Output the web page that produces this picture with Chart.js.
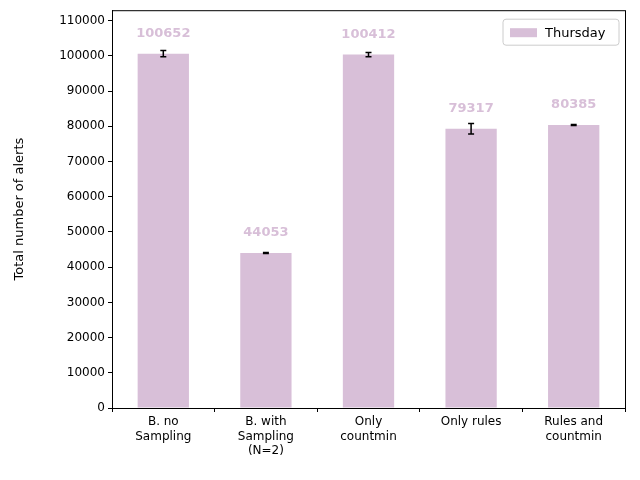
<!DOCTYPE html>
<html>
<head>
<meta charset="utf-8">
<script src="https://cdn.jsdelivr.net/npm/chart.js@4/dist/chart.umd.min.js"></script>
<style>
  html, body { margin: 0; padding: 0; background: #fff; }
  #wrap { width: 640px; height: 480px; }
</style>
</head>
<body>
<div id="wrap"><canvas id="chart" width="640" height="480"></canvas></div>
<script>
// Chart data
const categories = [['B. no', 'Sampling'], ['B. with', 'Sampling', '(N=2)'], ['Only', 'countmin'], ['Only rules'], ['Rules and', 'countmin']];
const alerts = [100652, 44053, 100412, 79317, 80385];
const errors = [900, 150, 600, 1500, 150];
const yTicks = [0, 10000, 20000, 30000, 40000, 50000, 60000, 70000, 80000, 90000, 100000, 110000];

const barColor = '#d8bfd8';
const font = 'DejaVu Sans';

const errorBars = {
  id: 'errorBars',
  afterDatasetsDraw(chart) {
    const { ctx, scales: { y } } = chart;
    const meta = chart.getDatasetMeta(0);
    const area = chart.chartArea;
    ctx.save();
    ctx.strokeStyle = '#000';
    ctx.lineWidth = 1.5;
    meta.data.forEach((bar, i) => {
      const top = y.getPixelForValue(alerts[i] + errors[i]);
      const bot = y.getPixelForValue(alerts[i] - errors[i]);
      ctx.beginPath();
      ctx.moveTo(bar.x, top); ctx.lineTo(bar.x, bot);
      ctx.moveTo(bar.x - 3, top); ctx.lineTo(bar.x + 3, top);
      ctx.moveTo(bar.x - 3, bot); ctx.lineTo(bar.x + 3, bot);
      ctx.stroke();
      ctx.fillStyle = barColor;
      ctx.font = 'bold 13px ' + font;
      ctx.textAlign = 'center';
      ctx.textBaseline = 'middle';
      ctx.fillText(String(alerts[i]), bar.x, bar.y - 20);
    });
    // frame
    ctx.lineWidth = 1;
    ctx.strokeRect(area.left + 0.5, area.top + 0.5, area.right - area.left, area.bottom - area.top);
    // legend box
    const w = 116, h = 26;
    const lx = area.right - w - 6, ly = area.top + 9;
    ctx.fillStyle = 'rgba(255,255,255,0.8)';
    ctx.strokeStyle = '#ccc';
    ctx.beginPath();
    ctx.roundRect(lx, ly, w, h, 3);
    ctx.fill(); ctx.stroke();
    ctx.fillStyle = barColor;
    ctx.fillRect(lx + 7, ly + 9, 27, 9);
    ctx.fillStyle = '#000';
    ctx.font = '13px ' + font;
    ctx.textAlign = 'left';
    ctx.fillText('Thursday', lx + 42, ly + 14);
    ctx.restore();
  }
};

new Chart(document.getElementById('chart').getContext('2d'), {
  type: 'bar',
  data: {
    labels: categories,
    datasets: [{
      label: 'Thursday',
      data: alerts,
      backgroundColor: barColor,
      barPercentage: 0.5,
      categoryPercentage: 1.0
    }]
  },
  options: {
    responsive: false,
    animation: false,
    layout: { padding: { top: 10, right: 15, left: 8, bottom: 8 } },
    plugins: {
      legend: { display: false },
      tooltip: { enabled: false }
    },
    scales: {
      x: {
        grid: { display: true, drawOnChartArea: false, tickLength: 4, tickColor: '#000' },
        border: { color: '#000' },
        ticks: { color: '#000', font: { family: font, size: 12 }, maxRotation: 0 },
        afterFit: s => { s.height = 64; }
      },
      y: {
        min: 0,
        max: 113000,
        afterBuildTicks: s => { s.ticks = yTicks.map(v => ({ value: v })); },
        grid: { display: true, drawOnChartArea: false, tickLength: 4, tickColor: '#000' },
        border: { color: '#000' },
        ticks: { color: '#000', font: { family: font, size: 12 }, callback: v => String(v) },
        title: { display: true, text: 'Total number of alerts', color: '#000', font: { family: font, size: 13 }, padding: { bottom: 16 } },
        afterFit: s => { s.width = 104; }
      }
    }
  },
  plugins: [errorBars]
});
</script>
</body>
</html>
